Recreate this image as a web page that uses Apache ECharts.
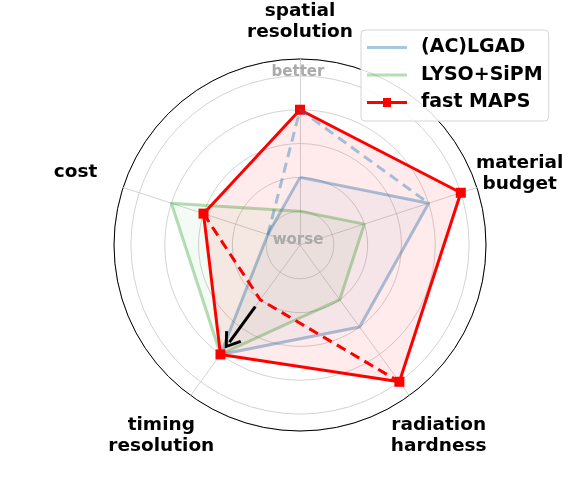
<!DOCTYPE html>
<html>
<head>
	<meta charset="utf-8">
	<title>Radar</title>
	<style>
		html, body { margin: 0; padding: 0; background: #fff; }
		#main { width: 581px; height: 485px; }
	</style>
</head>
<body>
<div id="main"></div>
<script src="https://cdn.jsdelivr.net/npm/echarts@6/dist/echarts.min.js"></script>
<script>
	// axes, counter-clockwise from the top
	var axisNames = ['spatial\nresolution', 'cost', 'timing\nresolution', 'radiation\nhardness', 'material\nbudget'];
	var seriesNames = ['(AC)LGAD', 'LYSO+SiPM', 'fast MAPS'];
	var lgad = [2, 1, 4, 3, 4];
	var lyso = [1, 4, 4, 2, 2];
	var maps = [4, 3, 4, 5, 5];
	// dashed "current" lines: [axis index, value]
	var lgadDashed = [[1, 1], [0, 4], [4, 4]];
	var mapsDashed = [[1, 3], [2, 2], [3, 5]];
	// improvement arrow on the timing axis
	var arrowAxis = 2;
	var arrowFrom = 2.25, arrowTo = 3.55;
	var rMax = 5.5;

	var cx = 300, cy = 245, R = 186;
	var step = 360 / axisNames.length;
	var font = 'DejaVu Sans';
	var labelDist = [223, 236, 236, 236, 231];

	function toPolar(pts) {
		return pts.map(function (p) { return [p[1], p[0] * step]; });
	}

	var chart = echarts.init(document.getElementById('main'));

	// axis labels placed around the outer ring
	var labels = axisNames.map(function (name, i) {
		var a = (90 + i * step) * Math.PI / 180;
		var r = labelDist[i];
		return {
			type: 'text',
			x: cx + r * Math.cos(a),
			y: cy - r * Math.sin(a),
			style: {
				text: name,
				font: 'bold 18.5px "DejaVu Sans"',
				fill: '#000',
				align: 'center',
				verticalAlign: 'middle',
				lineHeight: 21
			}
		};
	});
	labels.push({
		type: 'text', x: cx - 2, y: cy - 173, z: 1,
		style: { text: 'better', font: 'bold 15px "DejaVu Sans"', fill: '#aaaaaa', align: 'center', verticalAlign: 'middle' }
	});
	labels.push({
		type: 'text', x: cx - 2, y: cy - 5, z: 100,
		style: { text: 'worse', font: 'bold 15px "DejaVu Sans"', fill: '#aaaaaa', align: 'center', verticalAlign: 'middle' }
	});

	var lineIcon = 'path://M0,6 L40,6 L40,9 L0,9 Z';
	var markIcon = 'path://M0,6 L16,6 L16,3 L24,3 L24,6 L40,6 L40,9 L24,9 L24,12 L16,12 L16,9 L0,9 Z';

	var option = {
		animation: false,
		legend: {
			left: 361,
			top: 30,
			orient: 'vertical',
			padding: [8, 6, 9, 6],
			itemGap: 8.5,
			itemWidth: 40,
			itemHeight: 15,
			borderColor: '#d5d5d5',
			borderWidth: 1,
			borderRadius: 4,
			backgroundColor: 'rgba(255,255,255,0.85)',
			textStyle: { fontFamily: font, fontWeight: 'bold', fontSize: 19, color: '#000', padding: [0, 0, 0, 9], lineHeight: 19 },
			data: [
				{ name: seriesNames[0], icon: lineIcon, itemStyle: { color: 'rgba(31,119,180,0.4)' } },
				{ name: seriesNames[1], icon: lineIcon, itemStyle: { color: 'rgba(44,160,44,0.35)' } },
				{ name: seriesNames[2], icon: markIcon, itemStyle: { color: '#ff0000' } }
			]
		},
		graphic: labels,
		polar: { center: [cx, cy], radius: [0, R] },
		angleAxis: {
			type: 'value', min: 0, max: 360, startAngle: 90, clockwise: false,
			axisLine: { show: true, lineStyle: { color: '#000', width: 1 } },
			axisTick: { show: false }, axisLabel: { show: false }, splitLine: { show: false }
		},
		radiusAxis: {
			type: 'value', min: 0, max: rMax, interval: 1,
			axisLine: { show: false }, axisTick: { show: false }, axisLabel: { show: false },
			splitLine: { show: true, lineStyle: { color: '#c8c8c8', width: 0.8 } }
		},
		radar: {
			center: [cx, cy],
			radius: R,
			startAngle: 90,
			shape: 'circle',
			indicator: axisNames.map(function (n) { return { name: n, min: 0, max: rMax }; }),
			axisName: { show: false },
			axisLine: { lineStyle: { color: '#c8c8c8', width: 0.8 } },
			splitLine: { show: false },
			splitArea: { show: false }
		},
		series: [
			{
				type: 'radar', name: seriesNames[0], symbol: 'none',
				lineStyle: { color: 'rgba(31,119,180,0.4)', width: 3 },
				areaStyle: { color: 'rgba(31,119,180,0.07)' },
				data: [{ name: seriesNames[0], value: lgad }]
			},
			{
				type: 'line', coordinateSystem: 'polar', symbol: 'none', silent: true,
				lineStyle: { color: 'rgba(31,119,180,0.4)', width: 3, type: [10, 6] },
				data: toPolar(lgadDashed)
			},
			{
				type: 'radar', name: seriesNames[1], symbol: 'none',
				lineStyle: { color: 'rgba(44,160,44,0.35)', width: 3 },
				areaStyle: { color: 'rgba(44,160,44,0.07)' },
				data: [{ name: seriesNames[1], value: lyso }]
			},
			{
				type: 'radar', name: seriesNames[2], symbol: 'rect', symbolSize: 10,
				itemStyle: { color: '#ff0000' },
				lineStyle: { color: '#ff0000', width: 3 },
				areaStyle: { color: 'rgba(255,0,0,0.11)' },
				data: [{ name: seriesNames[2], value: maps }]
			},
			{
				type: 'line', coordinateSystem: 'polar', symbol: 'none', silent: true,
				lineStyle: { color: '#ff0000', width: 3, type: [10, 6] },
				data: toPolar(mapsDashed),
				markLine: {
					silent: true,
					symbol: ['none', 'path://M0,0 L10,14 L7.5,15.5 L0,5 L-7.5,15.5 L-10,14 Z'],
					symbolSize: [20, 16],
					label: { show: false },
					lineStyle: { color: '#000', width: 3, type: 'solid' },
					data: [[
						{ coord: [arrowFrom, arrowAxis * step] },
						{ coord: [arrowTo, arrowAxis * step] }
					]]
				}
			}
		]
	};
	chart.setOption(option);
</script>
</body>
</html>
